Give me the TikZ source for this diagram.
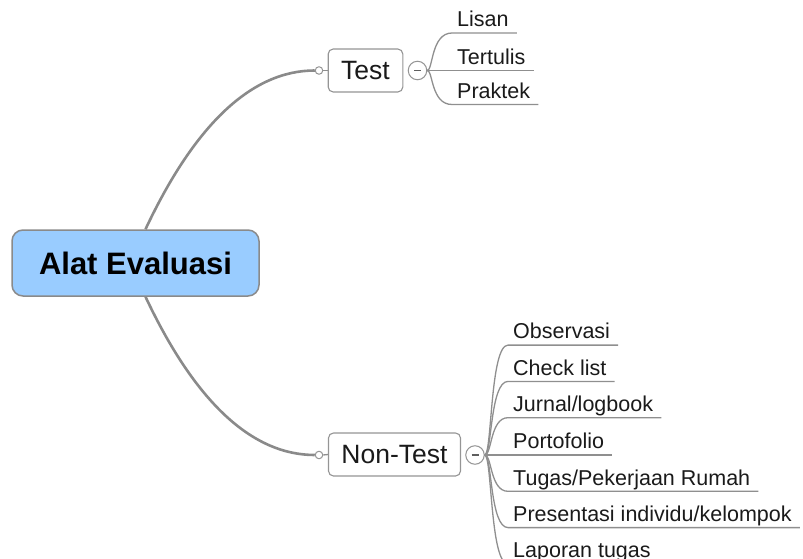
\documentclass[tikz,border=0pt]{standalone}
\usepackage{fontspec}
\setmainfont{Liberation Sans}
\definecolor{rootblue}{HTML}{99CCFF}
\definecolor{linegray}{HTML}{8A8A8A}
\definecolor{boxgray}{HTML}{959595}
\definecolor{twiggray}{HTML}{8F8F8F}
\definecolor{textdark}{HTML}{1A1A1A}
\begin{document}
\begin{tikzpicture}[x=1pt,y=-1pt,
  root/.style={draw=linegray, line width=1.5pt, fill=rootblue, rounded corners=11pt,
    minimum width=247pt, minimum height=66pt,
    font=\fontsize{31}{36}\selectfont\bfseries, text=black},
  topic/.style={draw=boxgray, line width=1.1pt, fill=white, rounded corners=5pt,
    minimum height=43pt, inner xsep=13pt, font=\fontsize{26.5}{30}\selectfont, text=textdark},
  knob/.style={circle, draw=boxgray, fill=white, line width=1pt, inner sep=0pt, minimum size=7.5pt},
  fold/.style={circle, draw=boxgray, fill=white, line width=1pt, inner sep=0pt, minimum size=18.5pt},
  minus/.style={draw=textdark!70, line width=1.3pt},
  leaf/.style={anchor=south west, inner xsep=0pt, inner ysep=6pt, text depth=0pt,
    font=\fontsize{21.5}{25}\selectfont, text=textdark,
    execute at begin node=\hspace*{5pt}, execute at end node=\hspace*{8pt}},
  trunk/.style={draw=linegray, line width=2.6pt},
  twig/.style={draw=twiggray, line width=1.3pt}]
\useasboundingbox (0,0) rectangle (803,559);
\clip (0,0) rectangle (803,559);

% central topic and the two main branches
\node[root] (root) at (135.5,263) {Alat Evaluasi};
\node[topic] (test) at (365.5,70.5) {Test};
\node[topic] (nontest) at (394.5,454.5) {Non-Test};

\node[knob] (testknob) at (319,70.5) {};
\node[knob] (nonknob) at (319,455) {};
\node[fold] (testfold) at (417.5,70.5) {};
\node[fold] (nonfold) at (475,455) {};

\draw[trunk] ([xshift=10pt]root.north) .. controls (195,124) and (252,70.5) .. (testknob.west);
\draw[trunk] ([xshift=10pt]root.south) .. controls (195,402) and (252,455) .. (nonknob.west);
\draw[twig] (testknob.east) -- (test.west);
\draw[twig] (nonknob.east) -- (nontest.west);

% collapse markers
\draw[minus] ([xshift=-3.5pt]testfold.center) -- ([xshift=3.5pt]testfold.center);
\draw[minus] ([xshift=-3.5pt]nonfold.center) -- ([xshift=3.5pt]nonfold.center);

% Test subtopics
\node[leaf] (lisan) at (452,33) {Lisan};
\node[leaf] (tertulis) at (452,70.5) {Tertulis};
\node[leaf] (praktek) at (452,104.5) {Praktek};
\draw[twig] (testfold.east) .. controls (433,70.5) and (431,33) .. (lisan.south west) -- (lisan.south east);
\draw[twig] (testfold.east) -- (tertulis.south west) -- (tertulis.south east);
\draw[twig] (testfold.east) .. controls (433,70.5) and (431,104.5) .. (praktek.south west) -- (praktek.south east);

% Non-Test subtopics
\node[leaf] (obs) at (508,345.1) {Observasi};
\node[leaf] (check) at (508,381.4) {Check list};
\node[leaf] (jurnal) at (508,417.7) {Jurnal/logbook};
\node[leaf] (porto) at (508,455) {Portofolio};
\node[leaf] (tugas) at (508,491.3) {Tugas/Pekerjaan Rumah};
\node[leaf] (pres) at (508,527.6) {Presentasi individu/kelompok};
\node[leaf] (lap) at (508,563.9) {Laporan tugas};
\draw[twig] (nonfold.east) .. controls (492,455) and (490,345.1) .. (obs.south west) -- (obs.south east);
\draw[twig] (nonfold.east) .. controls (492,455) and (490,381.4) .. (check.south west) -- (check.south east);
\draw[twig] (nonfold.east) .. controls (492,455) and (490,417.7) .. (jurnal.south west) -- (jurnal.south east);
\draw[twig] (nonfold.east) -- (porto.south west) -- (porto.south east);
\draw[twig] (nonfold.east) .. controls (492,455) and (490,491.3) .. (tugas.south west) -- (tugas.south east);
\draw[twig] (nonfold.east) .. controls (492,455) and (490,527.6) .. (pres.south west) -- (pres.south east);
\draw[twig] (nonfold.east) .. controls (492,455) and (490,563.9) .. (lap.south west) -- (lap.south east);
\end{tikzpicture}
\end{document}
